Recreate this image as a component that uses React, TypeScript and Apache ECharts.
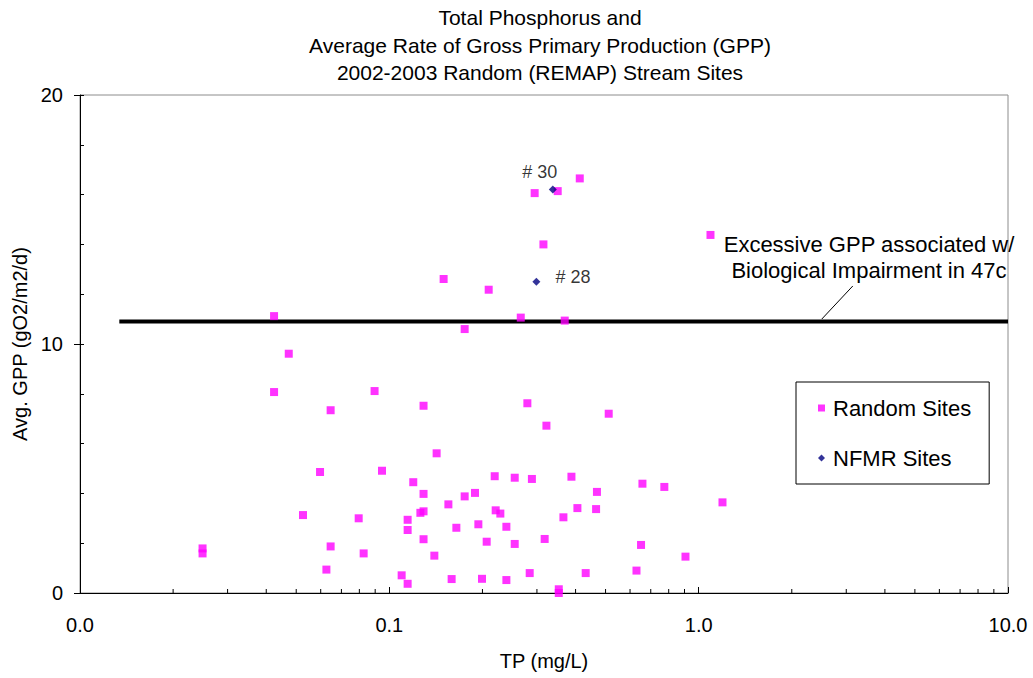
import React, { useEffect, useRef } from "react";
import * as echarts from "echarts";

// ---- Data ----
const titleLines = [
  "Total Phosphorus and",
  "Average Rate of Gross Primary Production (GPP)",
  "2002-2003 Random (REMAP) Stream Sites",
];

// Random (REMAP) sites: TP (mg/L) and Avg. GPP (gO2/m2/d)
const randomTP = [
  0.0249, 0.0249, 0.0424, 0.0424, 0.0473, 0.0526, 0.0597, 0.0626, 0.0646, 0.0646,
  0.0796, 0.0826, 0.0896, 0.0947, 0.1096, 0.1146, 0.1146, 0.1146, 0.1195, 0.126,
  0.129, 0.129, 0.129, 0.129, 0.1398, 0.1422, 0.1498, 0.1552, 0.159, 0.1647,
  0.1752, 0.1752, 0.1892, 0.194, 0.1993, 0.2064, 0.2095, 0.2191, 0.2207, 0.2285,
  0.239, 0.239, 0.2543, 0.2543, 0.266, 0.2794, 0.2843, 0.289, 0.295, 0.3149,
  0.3178, 0.322, 0.3502, 0.353, 0.353, 0.3654, 0.369, 0.3879, 0.4055, 0.4127,
  0.4313, 0.466, 0.469, 0.5119, 0.6295, 0.6512, 0.658, 0.7745, 0.9065, 1.092,
  1.194,
];
const randomGPP = [
  1.79, 1.59, 11.12, 8.07, 9.61, 3.13, 4.86, 0.94, 7.34, 1.87,
  3.0, 1.59, 8.11, 4.91, 0.71, 0.37, 2.94, 2.53, 4.45, 3.22,
  3.28, 7.52, 3.98, 2.16, 1.5, 5.61, 12.61, 3.56, 0.56, 2.62,
  3.88, 10.6, 4.02, 2.76, 0.57, 2.06, 12.18, 4.69, 3.32, 3.19,
  2.66, 0.52, 4.63, 1.97, 11.06, 7.62, 0.8, 4.58, 16.06, 14.0,
  2.17, 6.72, 16.14, 0.15, 0.0, 3.04, 10.94, 4.67, 3.41, 16.65,
  0.8, 3.37, 4.06, 7.2, 0.9, 1.93, 4.39, 4.26, 1.46, 14.38,
  3.64,
];

// NFMR sites
const nfmrTP = [0.3376, 0.2988];
const nfmrGPP = [16.2, 12.5];
const nfmrLabels = ["# 30", "# 28"];

// Threshold line: excessive GPP associated with biological impairment
const thresholdGPP = 10.9;
const thresholdTP = [0.0134, 10];

// Arrow annotation (data coordinates)
const arrowFrom = [3.15, 12.33];
const arrowTo = [2.5, 11.0];
const annotationText = ["Excessive GPP associated w/", "Biological Impairment in 47c"];

// Axis ticks
const xMinorTicks = [
  0.02, 0.03, 0.04, 0.05, 0.06, 0.07, 0.08, 0.09,
  0.2, 0.3, 0.4, 0.5, 0.6, 0.7, 0.8, 0.9,
  2, 3, 4, 5, 6, 7, 8, 9,
];
const xMin = 0.01;
const xMax = 10;
const yMin = 0;
const yMax = 20;
const yMajorInterval = 10;
const yMinorInterval = 2;

const FONT = "Liberation Sans, Arial, sans-serif";

export default function App() {
  const ref = useRef<HTMLDivElement>(null);

  useEffect(() => {
    if (!ref.current) return;
    const chart = echarts.init(ref.current, undefined, { renderer: "svg" });

    const randomData = randomTP.map((x, i) => [x, randomGPP[i]]);
    const nfmrData = nfmrTP.map((x, i) => ({
      value: [x, nfmrGPP[i]],
      label:
        i === 0
          ? { show: true, formatter: nfmrLabels[i], position: "top", offset: [-13, 0] }
          : { show: true, formatter: nfmrLabels[i], position: "right", offset: [10, -5] },
    }));

    const option: any = {
      animation: false,
      backgroundColor: "#fff",
      textStyle: { fontFamily: FONT },
      grid: {
        left: 80,
        right: 25,
        top: 95,
        bottom: 85,
        show: true,
        borderColor: "#8c8c8c",
        borderWidth: 1,
        backgroundColor: "transparent",
      },
      xAxis: {
        type: "log",
        logBase: 10,
        min: xMin,
        max: xMax,
        name: "TP (mg/L)",
        nameLocation: "middle",
        nameGap: 58,
        nameTextStyle: { fontSize: 20, color: "#000", fontFamily: FONT },
        axisLine: { show: true, onZero: false, lineStyle: { color: "#000", width: 1 } },
        axisTick: { show: true, inside: true, length: 6, lineStyle: { color: "#000" } },
        axisLabel: {
          fontSize: 20,
          color: "#000",
          margin: 22,
          fontFamily: FONT,
          formatter: (v: number) => v.toFixed(1),
        },
        splitLine: { show: false },
      },
      yAxis: [
        {
          type: "value",
          min: yMin,
          max: yMax,
          interval: yMajorInterval,
          name: "Avg. GPP (gO2/m2/d)",
          nameLocation: "middle",
          nameGap: 40,
          nameTextStyle: { fontSize: 20, color: "#000", fontFamily: FONT },
          axisLine: { show: true, lineStyle: { color: "#000", width: 1 } },
          axisTick: { show: true, inside: false, length: 6, lineStyle: { color: "#000" } },
          axisLabel: { fontSize: 20, color: "#000", margin: 17, fontFamily: FONT },
          splitLine: { show: false },
        },
        {
          type: "value",
          min: yMin,
          max: yMax,
          interval: yMinorInterval,
          position: "left",
          axisLine: { show: false },
          axisTick: { show: true, inside: true, length: 4, lineStyle: { color: "#000" } },
          axisLabel: { show: false },
          splitLine: { show: false },
        },
      ],
      legend: {
        orient: "vertical",
        left: 796,
        top: 382,
        padding: [15, 18, 15, 22],
        itemGap: 28,
        itemWidth: 7,
        itemHeight: 7,
        borderColor: "#000",
        borderWidth: 1,
        backgroundColor: "#fff",
        data: ["Random Sites", "NFMR Sites"],
        textStyle: {
          fontSize: 22,
          color: "#000",
          fontFamily: FONT,
          lineHeight: 21,
          padding: [0, 0, 0, 3],
        },
      },
      graphic: [
        {
          type: "text",
          x: 540,
          y: 4,
          style: {
            text: titleLines.join("\n"),
            textAlign: "center",
            fontSize: 21,
            lineHeight: 27.5,
            fontFamily: FONT,
            fill: "#000",
          },
        },
        {
          type: "text",
          x: 869,
          y: 231,
          style: {
            text: annotationText.join("\n"),
            textAlign: "center",
            fontSize: 22,
            lineHeight: 26,
            fontFamily: FONT,
            fill: "#000",
          },
        },
      ],
      series: [
        {
          name: "Threshold",
          type: "line",
          data: thresholdTP.map((x) => [x, thresholdGPP]),
          symbol: "none",
          lineStyle: { color: "#000", width: 4 },
          silent: true,
          z: 1,
          markLine: {
            silent: true,
            symbol: ["none", "arrow"],
            symbolSize: [0, 14],
            label: { show: false },
            lineStyle: { color: "#000", width: 1, type: "solid" },
            data: [[{ coord: arrowFrom }, { coord: arrowTo }]],
          },
        },
        {
          name: "Random Sites",
          type: "scatter",
          symbol: "rect",
          symbolSize: 8,
          itemStyle: { color: "#ff00ff" },
          data: randomData,
          z: 3,
        },
        {
          name: "NFMR Sites",
          type: "scatter",
          symbol: "diamond",
          symbolSize: 8,
          itemStyle: { color: "#000080" },
          label: { color: "#000", fontSize: 18, fontFamily: FONT },
          data: nfmrData,
          z: 4,
        },
        {
          name: "xMinorTicks",
          type: "custom",
          silent: true,
          clip: false,
          data: xMinorTicks.map((x) => [x, 0]),
          encode: { x: 0, y: 1 },
          renderItem: (_p: any, api: any) => {
            const pt = api.coord([api.value(0), api.value(1)]);
            return {
              type: "line",
              shape: { x1: pt[0], y1: pt[1], x2: pt[0], y2: pt[1] - 4 },
              style: { stroke: "#000", lineWidth: 1 },
            };
          },
          z: 5,
        },
      ],
    };

    chart.setOption(option);
    return () => chart.dispose();
  }, []);

  return (
    <div
      ref={ref}
      style={{ position: "fixed", left: 0, top: 0, width: 1033, height: 678 }}
    />
  );
}
